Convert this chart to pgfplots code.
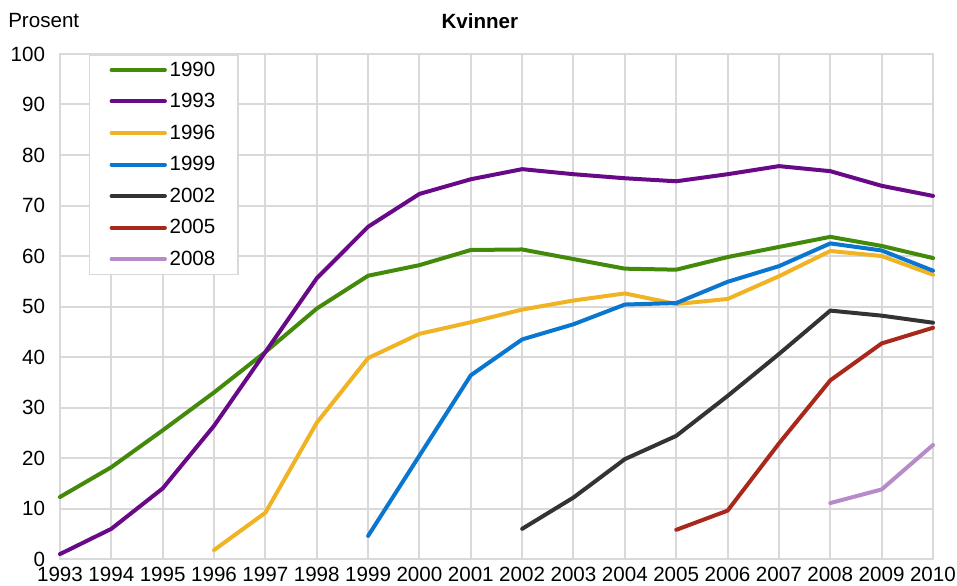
\documentclass[border=0pt]{standalone}
\usepackage{pgfplots}
\pgfplotsset{compat=1.18}
\usepackage{fontspec}
\setmainfont{Liberation Sans}
\definecolor{cgreen}{HTML}{43890A}
\definecolor{cpurple}{HTML}{680A87}
\definecolor{cyellow}{HTML}{F0B323}
\definecolor{cblue}{HTML}{0A76CF}
\definecolor{cdark}{HTML}{333333}
\definecolor{cred}{HTML}{A8291C}
\definecolor{clilac}{HTML}{B78AC9}
\definecolor{gridgray}{HTML}{D9D9D9}
\begin{document}
\begin{tikzpicture}
\path[use as bounding box] (-45bp,-19.5bp) rectangle (673bp,419.5bp);
\begin{axis}[
  scale only axis,
  width=655bp, height=379bp,
  xmin=1993, xmax=2010, ymin=0, ymax=100,
  xtick={1993,...,2010}, ytick={0,10,...,100},
  xticklabel={\pgfmathprintnumber[1000 sep={}]{\tick}},
  /pgf/number format/assume math mode=true,
  /pgf/number format/1000 sep={},
  tick label style={font=\fontsize{15.5}{17}\selectfont, text=black},
  xticklabel style={inner sep=1bp, yshift=-5bp},
  yticklabel style={inner sep=2bp, xshift=-9bp},
  major tick length=0pt,
  grid=major,
  major grid style={draw=gridgray, line width=1.5bp},
  axis line style={draw=gridgray, line width=1.5bp},
  every axis plot/.append style={line width=3bp, line join=round, line cap=round},
  legend image code/.code={\draw[#1] (0bp,0bp) -- (40bp,0bp);},
  legend style={at={(rel axis cs:0.033,1)}, anchor=north west,
    draw=gridgray, line width=1.2bp, font=\fontsize{15.5}{17}\selectfont,
    inner xsep=15bp, inner ysep=2bp, row sep=5bp,
    nodes={inner ysep=3.2bp, inner xsep=2bp},
    legend cell align=left},
  clip=false,
]
\addplot[cgreen] coordinates {(1993,12.3)(1994,18.2)(1995,25.5)(1996,33)(1997,41)(1998,49.6)(1999,56.1)(2000,58.2)(2001,61.2)(2002,61.3)(2003,59.4)(2004,57.5)(2005,57.3)(2006,59.8)(2007,61.8)(2008,63.8)(2009,62)(2010,59.6)};
\addlegendentry{1990}
\addplot[cpurple] coordinates {(1993,1)(1994,6)(1995,14)(1996,26.4)(1997,41)(1998,55.6)(1999,65.8)(2000,72.3)(2001,75.2)(2002,77.2)(2003,76.2)(2004,75.4)(2005,74.8)(2006,76.2)(2007,77.8)(2008,76.8)(2009,73.9)(2010,71.9)};
\addlegendentry{1993}
\addplot[cyellow] coordinates {(1996,1.8)(1997,9.2)(1998,27)(1999,39.8)(2000,44.6)(2001,46.9)(2002,49.4)(2003,51.2)(2004,52.6)(2005,50.5)(2006,51.5)(2007,56)(2008,61)(2009,60)(2010,56.3)};
\addlegendentry{1996}
\addplot[cblue] coordinates {(1999,4.6)(2000,20.5)(2001,36.4)(2002,43.5)(2003,46.5)(2004,50.4)(2005,50.7)(2006,54.9)(2007,58)(2008,62.5)(2009,61.1)(2010,57.1)};
\addlegendentry{1999}
\addplot[cdark] coordinates {(2002,6)(2003,12.2)(2004,19.8)(2005,24.4)(2006,32.3)(2007,40.6)(2008,49.2)(2009,48.2)(2010,46.8)};
\addlegendentry{2002}
\addplot[cred] coordinates {(2005,5.8)(2006,9.6)(2007,22.9)(2008,35.4)(2009,42.7)(2010,45.8)};
\addlegendentry{2005}
\addplot[clilac] coordinates {(2008,11.1)(2009,13.8)(2010,22.6)};
\addlegendentry{2008}
\end{axis}
\node[font=\fontsize{15.5}{17}\selectfont\bfseries] at (315bp,404bp) {Kvinner};
\node[font=\fontsize{15.5}{17}\selectfont, anchor=west, inner sep=0pt] at (-39bp,404bp) {Prosent};
\end{tikzpicture}
\end{document}
